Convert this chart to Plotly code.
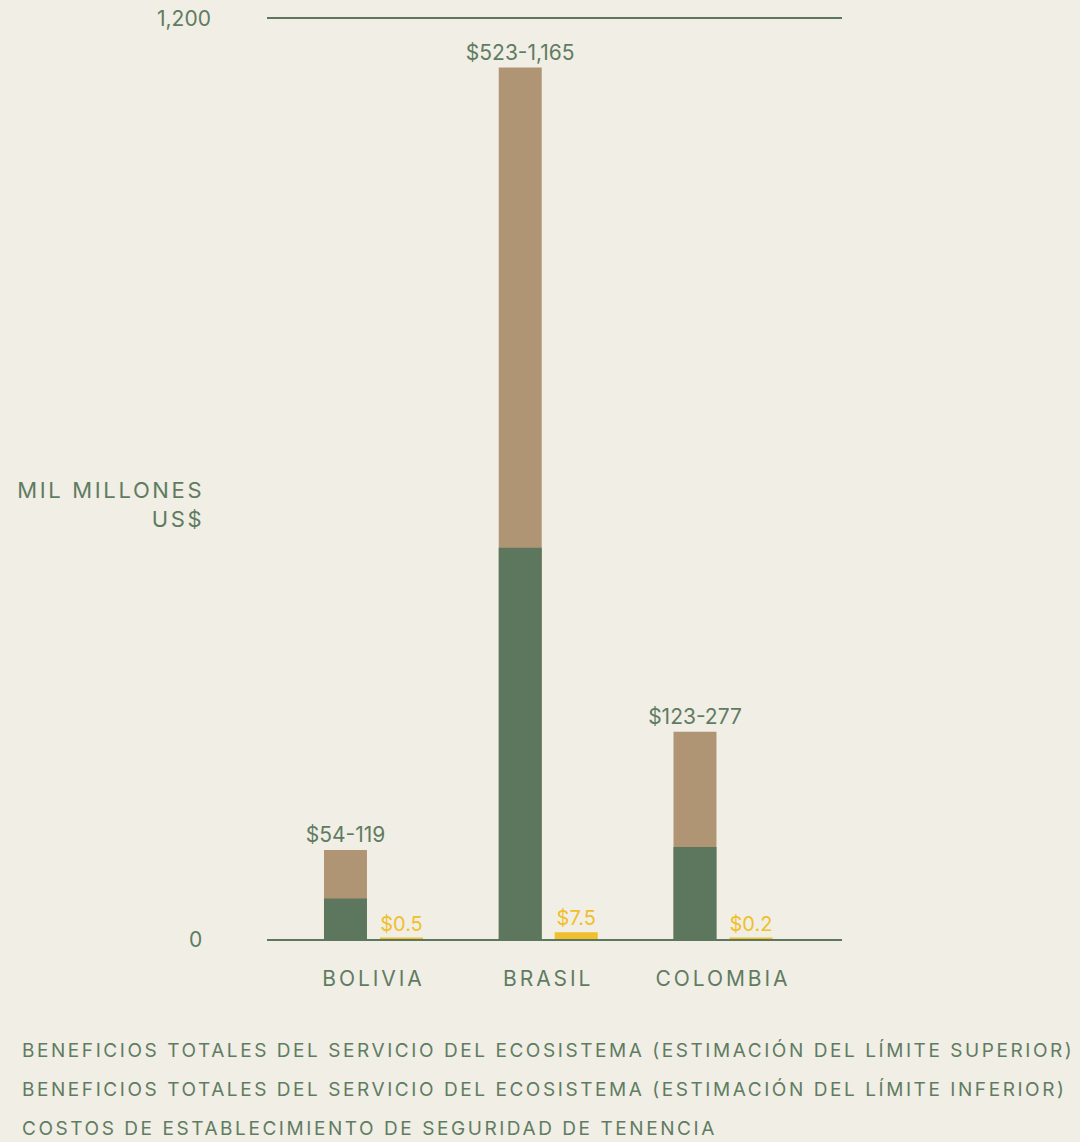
import plotly.graph_objects as go

# ---- data ----
countries = ["BOLIVIA", "BRASIL", "COLOMBIA"]
benefit_low = [54, 523, 123]
benefit_high = [119, 1165, 277]
tenure_cost = [0.5, 7.5, 0.2]
series_names = [
    "BENEFICIOS TOTALES DEL SERVICIO DEL ECOSISTEMA (ESTIMACIÓN DEL LÍMITE SUPERIOR)",
    "BENEFICIOS TOTALES DEL SERVICIO DEL ECOSISTEMA (ESTIMACIÓN DEL LÍMITE INFERIOR)",
    "COSTOS DE ESTABLECIMIENTO DE SEGURIDAD DE TENENCIA",
]
y_tick_labels = ["0", "1,200"]
y_axis_title = "MIL MILLONES<br>US$"

# ---- style ----
BG = "#f1eee5"
GREEN = "#5c775d"
TEXT = "#5f7c62"
TAN = "#b09574"
YELLOW = "#f0bf2c"
FONT = "Inter"

fig = go.Figure()

fig.add_trace(go.Bar(
    name=series_names[0], x=countries, y=benefit_high,
    width=0.246, offset=-0.2833,
    marker=dict(color=TAN, line=dict(width=0)),
    text=[f"${lo}-{hi:,}" for lo, hi in zip(benefit_low, benefit_high)],
    textposition="outside", cliponaxis=False, constraintext="none",
    textfont=dict(family=FONT, size=21, color=TEXT),
    showlegend=False,
))
fig.add_trace(go.Bar(
    name=series_names[1], x=countries, y=benefit_low,
    width=0.246, offset=-0.2833,
    marker=dict(color=GREEN, line=dict(width=0)),
    showlegend=False,
))
fig.add_trace(go.Bar(
    name=series_names[2], x=countries, y=tenure_cost,
    width=0.2318, offset=0.0443,
    marker=dict(color=YELLOW, line=dict(width=2.5, color=YELLOW)),
    text=[f"${c}" for c in tenure_cost],
    textposition="outside", cliponaxis=False, constraintext="none",
    textfont=dict(family=FONT, size=20, color=YELLOW),
    showlegend=False,
))

annotations = [
    dict(text=y_tick_labels[1], x=0, xref="paper", y=1, yref="paper",
         xanchor="right", yanchor="middle", xshift=-54, yshift=1, showarrow=False,
         font=dict(family=FONT, size=21, color=TEXT)),
    dict(text=y_tick_labels[0], x=0, xref="paper", y=0, yref="paper",
         xanchor="right", yanchor="middle", xshift=-63, showarrow=False,
         font=dict(family=FONT, size=21, color=TEXT)),
    dict(text=y_axis_title, x=0, xref="paper", y=0.4723, yref="paper",
         xanchor="right", yanchor="middle", align="right", xshift=-61,
         showarrow=False, font=dict(family=FONT, size=22, color=TEXT)),
]
legend_y = [-0.1204, -0.1627, -0.2061]
for name, ly in zip(series_names, legend_y):
    annotations.append(dict(
        text=name, x=0, xref="paper", y=ly, yref="paper",
        xanchor="left", yanchor="middle", align="left", xshift=-247,
        showarrow=False, font=dict(family=FONT, size=19, color=TEXT)))

fig.update_layout(
    width=1080, height=1142,
    margin=dict(l=267, r=238, t=19, b=203),
    paper_bgcolor=BG, plot_bgcolor=BG,
    barmode="overlay",
    font=dict(family=FONT, color=TEXT),
    annotations=annotations,
    xaxis=dict(
        type="category", range=[-0.6094, 2.681],
        showline=True, linecolor=GREEN, linewidth=2, mirror=True,
        showgrid=False, zeroline=False,
        ticks="outside", ticklen=20, tickcolor="rgba(0,0,0,0)",
        tickfont=dict(family=FONT, size=21, color=TEXT),
    ),
    yaxis=dict(
        range=[0, 1230], showgrid=False, zeroline=False,
        showline=False, showticklabels=False,
    ),
)

post = """
document.body.style.margin = '0';
document.body.style.background = '#f1eee5';
var gd = document.getElementById('{plot_id}');
function applySpacing(){
  gd.querySelectorAll('.xtick text').forEach(function(t){ t.style.letterSpacing='0.14em'; });
  gd.querySelectorAll('.annotation-text').forEach(function(t){
    if (!/[0-9]/.test(t.textContent)) {
      t.style.letterSpacing = (t.textContent.indexOf('MIL') === 0) ? '0.12em' : '0.135em';
    }
  });
}
applySpacing();
if (gd.on) { gd.on('plotly_afterplot', applySpacing); }
"""

fig.write_html("out.html", post_script=post, config={"displayModeBar": False})
